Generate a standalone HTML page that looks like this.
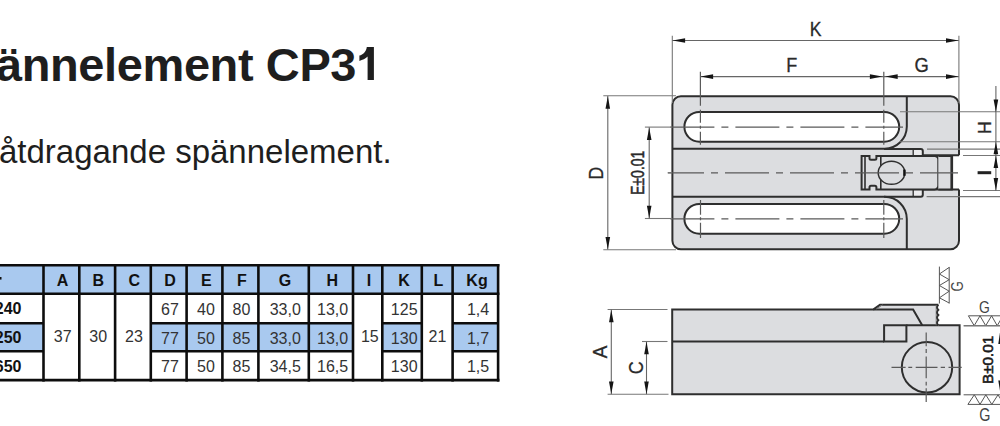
<!DOCTYPE html>
<html><head><meta charset="utf-8">
<style>
html,body{margin:0;padding:0;background:#fff;width:1000px;height:426px;overflow:hidden;position:relative}
body{font-family:"Liberation Sans",sans-serif;color:#1a1a1a}
.t{position:absolute;white-space:nowrap;line-height:1}
#title{left:-4px;top:41px;font-size:47px;letter-spacing:-0.4px;font-weight:bold;color:#1e1e1e}
#sub{left:-1px;top:135px;font-size:33px;color:#1e1e1e}
svg{position:absolute;left:0;top:0}
</style></head><body>
<div class="t" id="title">ännelement CP3</div>
<div class="t" id="sub">åtdragande spännelement.</div>
<svg width="1000" height="426" viewBox="0 0 1000 426">
<path d="M366.8,46.9 H373.9 V79.9 H367.6 V56.6 C365.5,58.6 362.4,60.2 359.4,60.9 V55.6 C363,54.5 366.2,51.6 366.8,46.9 Z" fill="#1e1e1e"/>
<g id="table">
<rect x="0" y="265" width="498" height="28" fill="#a9c9ef"/>
<rect x="0" y="323.2" width="43.5" height="28" fill="#a9c9ef"/>
<rect x="150.8" y="323.2" width="202.2" height="28" fill="#a9c9ef"/>
<rect x="382.3" y="323.2" width="39.5" height="28" fill="#a9c9ef"/>
<rect x="452.6" y="323.2" width="45.5" height="28" fill="#a9c9ef"/>
<line x1="43.5" y1="264.1" x2="43.5" y2="381.6" stroke="#0d0d0d" stroke-width="2.6"/>
<line x1="79.3" y1="264.1" x2="79.3" y2="381.6" stroke="#0d0d0d" stroke-width="2.6"/>
<line x1="115.1" y1="264.1" x2="115.1" y2="381.6" stroke="#0d0d0d" stroke-width="2.6"/>
<line x1="150.8" y1="264.1" x2="150.8" y2="381.6" stroke="#0d0d0d" stroke-width="2.6"/>
<line x1="186.6" y1="264.1" x2="186.6" y2="381.6" stroke="#0d0d0d" stroke-width="2.6"/>
<line x1="222.4" y1="264.1" x2="222.4" y2="381.6" stroke="#0d0d0d" stroke-width="2.6"/>
<line x1="258.4" y1="264.1" x2="258.4" y2="381.6" stroke="#0d0d0d" stroke-width="2.6"/>
<line x1="308.8" y1="264.1" x2="308.8" y2="381.6" stroke="#0d0d0d" stroke-width="2.6"/>
<line x1="353" y1="264.1" x2="353" y2="381.6" stroke="#0d0d0d" stroke-width="2.6"/>
<line x1="382.3" y1="264.1" x2="382.3" y2="381.6" stroke="#0d0d0d" stroke-width="2.6"/>
<line x1="421.8" y1="264.1" x2="421.8" y2="381.6" stroke="#0d0d0d" stroke-width="2.6"/>
<line x1="452.6" y1="264.1" x2="452.6" y2="381.6" stroke="#0d0d0d" stroke-width="2.6"/>
<line x1="498.1" y1="264.1" x2="498.1" y2="381.6" stroke="#0d0d0d" stroke-width="2.6"/>
<line x1="0" y1="265.25" x2="499.4" y2="265.25" stroke="#0d0d0d" stroke-width="2.4"/>
<line x1="0" y1="293.7" x2="499.4" y2="293.7" stroke="#0d0d0d" stroke-width="2.6"/>
<line x1="0" y1="380.2" x2="499.4" y2="380.2" stroke="#0d0d0d" stroke-width="2.7"/>
<line x1="0" y1="323.2" x2="43.5" y2="323.2" stroke="#0d0d0d" stroke-width="2.5"/>
<line x1="150.8" y1="323.2" x2="353" y2="323.2" stroke="#0d0d0d" stroke-width="2.5"/>
<line x1="382.3" y1="323.2" x2="421.8" y2="323.2" stroke="#0d0d0d" stroke-width="2.5"/>
<line x1="452.6" y1="323.2" x2="498.1" y2="323.2" stroke="#0d0d0d" stroke-width="2.5"/>
<line x1="0" y1="351.2" x2="43.5" y2="351.2" stroke="#0d0d0d" stroke-width="2.5"/>
<line x1="150.8" y1="351.2" x2="353" y2="351.2" stroke="#0d0d0d" stroke-width="2.5"/>
<line x1="382.3" y1="351.2" x2="421.8" y2="351.2" stroke="#0d0d0d" stroke-width="2.5"/>
<line x1="452.6" y1="351.2" x2="498.1" y2="351.2" stroke="#0d0d0d" stroke-width="2.5"/>
<g font-family="Liberation Sans" font-weight="bold" font-size="16" fill="#111" text-anchor="middle">
<text x="62.5" y="285.7">A</text>
<text x="98.4" y="285.7">B</text>
<text x="134.3" y="285.7">C</text>
<text x="170" y="285.7">D</text>
<text x="206.3" y="285.7">E</text>
<text x="241.8" y="285.7">F</text>
<text x="285" y="285.7">G</text>
<text x="332.4" y="285.7">H</text>
<text x="369" y="285.7">I</text>
<text x="404" y="285.7">K</text>
<text x="438.5" y="285.7">L</text>
<text x="477" y="285.7">Kg</text>
</g>
<g font-family="Liberation Sans" font-weight="bold" font-size="16" fill="#111" text-anchor="end">
<text x="21.5" y="313.8">240</text>
<text x="21.5" y="343.4">250</text>
<text x="21.5" y="372">650</text>
</g>
<rect x="0" y="277" width="1.5" height="2.6" fill="#111"/>
<g font-family="Liberation Sans" font-size="16" fill="#333" text-anchor="middle">
<text x="62.7" y="342.4">37</text>
<text x="98.2" y="342.4">30</text>
<text x="134" y="342.4">23</text>
<text x="369.8" y="342.4">15</text>
<text x="437.4" y="342.4">21</text>
<text x="170" y="315">67</text>
<text x="206" y="315">40</text>
<text x="241.5" y="315">80</text>
<text x="285.3" y="315">33,0</text>
<text x="332.6" y="315">13,0</text>
<text x="404.2" y="315">125</text>
<text x="478" y="315">1,4</text>
<text x="170" y="344">77</text>
<text x="206" y="344">50</text>
<text x="241.5" y="344">85</text>
<text x="285.3" y="344">33,0</text>
<text x="332.6" y="344">13,0</text>
<text x="404.2" y="344">130</text>
<text x="478" y="344">1,7</text>
<text x="170" y="372">77</text>
<text x="206" y="372">50</text>
<text x="241.5" y="372">85</text>
<text x="285.3" y="372">34,5</text>
<text x="332.6" y="372">16,5</text>
<text x="404.2" y="372">130</text>
<text x="478" y="372">1,5</text>
</g>
</g>
<g id="drawing">
<path d="M680.9,96.2 H950.5 A8.5,8.5 0 0 1 959.0,104.7 V240.7 A8.5,8.5 0 0 1 950.5,249.2 H680.9 A8.5,8.5 0 0 1 672.4,240.7 V104.7 A8.5,8.5 0 0 1 680.9,96.2 Z" fill="#dcdde0" stroke="none"/>
<rect x="951.8" y="155.3" width="8.5" height="34.3" fill="#fff"/>
<path d="M699.3,111.9 H884.3000000000001 A14.899999999999991,14.899999999999991 0 0 1 884.3000000000001,141.7 H699.3 A14.899999999999991,14.899999999999991 0 0 1 699.3,111.9 Z" fill="#fff" stroke="#2e2e2e" stroke-width="2"/>
<path d="M699.3,203.9 H884.3000000000001 A14.899999999999991,14.899999999999991 0 0 1 884.3000000000001,233.7 H699.3 A14.899999999999991,14.899999999999991 0 0 1 699.3,203.9 Z" fill="#fff" stroke="#2e2e2e" stroke-width="2"/>
<path d="M680.9,96.2 H950.5 A8.5,8.5 0 0 1 959.0,104.7 V155.3 M959.0,189.6 V240.7 A8.5,8.5 0 0 1 950.5,249.2 H680.9 A8.5,8.5 0 0 1 672.4,240.7 V104.7 A8.5,8.5 0 0 1 680.9,96.2" stroke="#2e2e2e" stroke-width="2" fill="none" />
<path d="M672.4,148.7 H884.6 A22.2,22.2 0 0 0 906.8000000000001,126.8 V96.2" stroke="#2e2e2e" stroke-width="2" fill="none" />
<path d="M672.4,196.8 H884.6 A22.2,22.2 0 0 1 906.8000000000001,218.8 V249.2" stroke="#2e2e2e" stroke-width="2" fill="none" />
<rect x="913.5" y="149.5" width="8.6" height="5.6" fill="#ececee"/>
<rect x="913.5" y="190.1" width="8.6" height="6.1" fill="#ececee"/>
<path d="M884,148.9 H920.8 Q922.8,148.9 922.8,150.9 V155.5" stroke="#2e2e2e" stroke-width="2" fill="none" />
<path d="M913.2,148.9 V155.5" stroke="#2e2e2e" stroke-width="1.3" fill="none" />
<path d="M884,196.8 H920.8 Q922.8,196.8 922.8,194.8 V189.6" stroke="#2e2e2e" stroke-width="2" fill="none" />
<path d="M913.2,189.6 V196.8" stroke="#2e2e2e" stroke-width="1.3" fill="none" />
<line x1="927" y1="149.1" x2="1000" y2="149.1" stroke="#777" stroke-width="1.2" />
<line x1="926.6" y1="196.7" x2="1000" y2="196.7" stroke="#777" stroke-width="1.2" />
<path d="M922.3,155.3 H959" stroke="#2e2e2e" stroke-width="2" fill="none" />
<path d="M922.3,189.6 H959" stroke="#2e2e2e" stroke-width="2" fill="none" />
<path d="M861.6,156 H869.5 V158.2 Q869.5,159.7 871,159.7 H874.9 Q876.4,159.7 876.4,158.2 V156 H934.5 Q938.3,156 938.3,159.8 V185.6 Q938.3,189.4 934.5,189.4 H876.4 V187.2 Q876.4,185.7 874.9,185.7 H871 Q869.5,185.7 869.5,187.2 V189.4 H861.6 Z" stroke="#2e2e2e" stroke-width="2" fill="#dcdde0" />
<path d="M865,156 V189.4" stroke="#2e2e2e" stroke-width="1.6" fill="none" />
<path d="M880.8,156 V189.4" stroke="#2e2e2e" stroke-width="1.6" fill="none" />
<path d="M938.3,156 H951.8 V189.4 H938.3" stroke="#2e2e2e" stroke-width="2" fill="#dcdde0" />
<path d="M951.8,155.5 V189.8" stroke="#2e2e2e" stroke-width="2.6" fill="none" />
<ellipse cx="891.5" cy="172.75" rx="13.3" ry="11.6" fill="#dcdde0" stroke="#2e2e2e" stroke-width="1.5"/>
<path d="M904.4,169.6 V175.8" stroke="#111" stroke-width="2.4" fill="none" />
<line x1="667.8" y1="172.9" x2="958" y2="172.9" stroke="#5a5a5a" stroke-width="1.2" stroke-dasharray="44 7 7 7" stroke-dashoffset="7.8"/>
<line x1="670.4" y1="127.1" x2="903" y2="127.1" stroke="#5a5a5a" stroke-width="1.2" stroke-dasharray="44 7 7 7" stroke-dashoffset="0"/>
<line x1="670.4" y1="218.8" x2="903" y2="218.8" stroke="#5a5a5a" stroke-width="1.2" stroke-dasharray="44 7 7 7" stroke-dashoffset="0"/>
<line x1="644.9" y1="127.1" x2="672" y2="127.1" stroke="#777" stroke-width="1.1" />
<line x1="644.9" y1="218.5" x2="672" y2="218.5" stroke="#777" stroke-width="1.1" />
<line x1="667.8" y1="172.7" x2="672" y2="172.7" stroke="#777" stroke-width="1.1" />
<line x1="700.4" y1="71.8" x2="700.4" y2="145" stroke="#5a5a5a" stroke-width="1.2" stroke-dasharray="34 4 13 3 3 3 13 4 50" stroke-dashoffset="0"/>
<line x1="700.5" y1="200" x2="700.5" y2="238" stroke="#5a5a5a" stroke-width="1.2" stroke-dasharray="14.8 2.5 3 2.5 16" stroke-dashoffset="0"/>
<line x1="883.8" y1="71.8" x2="883.8" y2="145" stroke="#5a5a5a" stroke-width="1.2" stroke-dasharray="34 4 13 3 3 3 13 4 50" stroke-dashoffset="0"/>
<line x1="883.8" y1="200" x2="883.8" y2="238" stroke="#5a5a5a" stroke-width="1.2" stroke-dasharray="14.8 2.5 3 2.5 16" stroke-dashoffset="0"/>
<line x1="672.3" y1="35.8" x2="672.3" y2="103" stroke="#777" stroke-width="1.1" />
<line x1="958.9" y1="35.8" x2="958.9" y2="103" stroke="#777" stroke-width="1.1" />
<line x1="672.3" y1="40.5" x2="958.8" y2="40.5" stroke="#666" stroke-width="1.1" />
<polygon points="672.6,40.5 685.1,38.2 685.1,42.8" fill="#151515"/>
<polygon points="958.5,40.5 946.0,38.2 946.0,42.8" fill="#151515"/>
<line x1="700.3" y1="76.6" x2="958.8" y2="76.6" stroke="#666" stroke-width="1.1" />
<polygon points="700.6,76.6 713.1,74.3 713.1,78.9" fill="#151515"/>
<polygon points="882.4,76.6 869.9,74.3 869.9,78.9" fill="#151515"/>
<polygon points="885.2,76.6 897.7,74.3 897.7,78.9" fill="#151515"/>
<polygon points="958.5,76.6 946.0,74.3 946.0,78.9" fill="#151515"/>
<text transform="translate(815.6,35.6) scale(0.88,1)" font-family="Liberation Sans" font-size="20" fill="#2a2a2a" text-anchor="middle" stroke="#2a2a2a" stroke-width="0.3">K</text>
<text transform="translate(791.7,71.6) scale(0.9,1)" font-family="Liberation Sans" font-size="20" fill="#2a2a2a" text-anchor="middle" stroke="#2a2a2a" stroke-width="0.3">F</text>
<text transform="translate(921.6,72.2) scale(0.92,1)" font-family="Liberation Sans" font-size="20" fill="#2a2a2a" text-anchor="middle" stroke="#2a2a2a" stroke-width="0.3">G</text>
<line x1="603.3" y1="95.8" x2="676" y2="95.8" stroke="#777" stroke-width="1.1" />
<line x1="603.3" y1="249.8" x2="676" y2="249.8" stroke="#777" stroke-width="1.1" />
<line x1="607.8" y1="96" x2="607.8" y2="249.5" stroke="#666" stroke-width="1.1" />
<polygon points="607.8,96.2 605.5,108.7 610.1,108.7" fill="#151515"/>
<polygon points="607.8,249.5 605.5,237.0 610.1,237.0" fill="#151515"/>
<line x1="649.2" y1="127.3" x2="649.2" y2="218.5" stroke="#666" stroke-width="1.1" />
<polygon points="649.2,127.5 646.9,140.0 651.5,140.0" fill="#151515"/>
<polygon points="649.2,218.3 646.9,205.8 651.5,205.8" fill="#151515"/>
<text transform="translate(603.3,173.2) rotate(-90) scale(0.9,1)" font-family="Liberation Sans" font-size="19.5" fill="#2a2a2a" text-anchor="middle" stroke="#2a2a2a" stroke-width="0.3">D</text>
<text transform="translate(644.4,172.8) rotate(-90) scale(0.74,1)" font-family="Liberation Sans" font-size="19" fill="#2a2a2a" text-anchor="middle" stroke="#2a2a2a" stroke-width="0.5">E±0.01</text>
<line x1="900" y1="111.8" x2="1000" y2="111.8" stroke="#777" stroke-width="1.1" />
<line x1="900" y1="141.8" x2="1000" y2="141.8" stroke="#777" stroke-width="1.1" />
<line x1="963" y1="155.5" x2="1000" y2="155.5" stroke="#777" stroke-width="1.1" />
<line x1="963" y1="190.5" x2="1000" y2="190.5" stroke="#777" stroke-width="1.1" />
<line x1="995.9" y1="86" x2="995.9" y2="191" stroke="#666" stroke-width="1.1" />
<polygon points="995.9,111.9 993.6,99.4 998.2,99.4" fill="#151515"/>
<polygon points="995.9,141.8 993.6,154.3 998.2,154.3" fill="#151515"/>
<polygon points="995.9,155.6 993.6,168.1 998.2,168.1" fill="#151515"/>
<polygon points="995.9,190.4 993.6,177.9 998.2,177.9" fill="#151515"/>
<text transform="translate(990.6,127.6) rotate(-90) scale(0.95,1)" font-family="Liberation Sans" font-size="18.5" fill="#2a2a2a" text-anchor="middle" stroke="#2a2a2a" stroke-width="0.3">H</text>
<rect x="977.6" y="171.2" width="13.6" height="3" fill="#222"/>
<path d="M672.2,309.4 H873.5 L880,304.8 H938.4 V325.3 H959.6 V394.3 H672.2 Z" fill="#dcdde0" stroke="none"/>
<path d="M938.4,304.8 H880 L873.5,309.4 H672.2 V394.3 H959.6 V325.3 H938.4" stroke="#2e2e2e" stroke-width="2" fill="none" />
<path d="M672.2,341.5 H884.1" stroke="#2e2e2e" stroke-width="2" fill="none" />
<path d="M884.1,341.5 V325.3 H906.4 V341.5 Z" stroke="#2e2e2e" stroke-width="2" fill="none" />
<path d="M906.4,325.3 H938.4" stroke="#2e2e2e" stroke-width="2" fill="none" />
<path d="M873.5,309.4 H913.1 L922.2,325.3" stroke="#2e2e2e" stroke-width="2" fill="none" />
<path d="M876.4,309 L882.6,304.8" stroke="#777" stroke-width="1" fill="none" />
<path d="M936.2,305 V325.3" stroke="#777" stroke-width="0.9" fill="none" />
<path d="M938.4,304.8 Q935.6,307.35 938.4,309.9 Q935.6,312.45 938.4,315 Q935.6,317.55 938.4,320.1 Q935.6,322.7 938.4,325.3" stroke="#2e2e2e" stroke-width="1.8" fill="none" />
<circle cx="927" cy="367.2" r="25.2" fill="#dcdde0" stroke="#2e2e2e" stroke-width="2"/>
<line x1="891.5" y1="367.4" x2="961.7" y2="367.4" stroke="#5a5a5a" stroke-width="1.2" stroke-dasharray="14.1 2.7 3.9 3.5 21.8 3.2 4.3 3.5 13.2 100" stroke-dashoffset="0"/>
<line x1="926.2" y1="332.5" x2="926.2" y2="402" stroke="#5a5a5a" stroke-width="1.2" stroke-dasharray="13.8 2.7 3.9 3.5 21.8 3.5 3.9 2.7 14 100" stroke-dashoffset="0"/>
<line x1="607.6" y1="309.5" x2="667.5" y2="309.5" stroke="#777" stroke-width="1.1" />
<line x1="607.6" y1="394.3" x2="668.5" y2="394.3" stroke="#777" stroke-width="1.1" />
<line x1="642" y1="341.5" x2="667.5" y2="341.5" stroke="#777" stroke-width="1.1" />
<line x1="611.3" y1="309.6" x2="611.3" y2="394.2" stroke="#666" stroke-width="1.1" />
<polygon points="611.3,309.7 609.0,322.2 613.6,322.2" fill="#151515"/>
<polygon points="611.3,394.1 609.0,381.6 613.6,381.6" fill="#151515"/>
<line x1="646.5" y1="341.6" x2="646.5" y2="394.2" stroke="#666" stroke-width="1.1" />
<polygon points="646.5,341.7 644.2,354.2 648.8,354.2" fill="#151515"/>
<polygon points="646.5,394.1 644.2,381.6 648.8,381.6" fill="#151515"/>
<text transform="translate(607.4,351.9) rotate(-90) scale(0.95,1)" font-family="Liberation Sans" font-size="20" fill="#2a2a2a" text-anchor="middle" stroke="#2a2a2a" stroke-width="0.3">A</text>
<text transform="translate(642.7,367.8) rotate(-90) scale(0.9,1)" font-family="Liberation Sans" font-size="20" fill="#2a2a2a" text-anchor="middle" stroke="#2a2a2a" stroke-width="0.3">C</text>
<path d="M939.4,266.6 V303.5 M949.2,267 V303.5 M949.2,267.4 L939.4,274 L949.2,279.7 L939.4,285.5 L949.2,291.2 L939.4,297.8 L949.2,303" stroke="#555" stroke-width="1.0" fill="none" />
<text transform="translate(963.3,286.3) rotate(-90) scale(0.8,1)" font-family="Liberation Sans" font-size="16.5" fill="#4a4a4a" text-anchor="middle" >G</text>
<path d="M963.5,325.8 H1000 M968.4,315.8 H1000 M968.4,315.8 L974.2,325.7 L980,315.8 L985.7,325.7 L991.6,315.8 L997.2,325.7 L1003,315.8" stroke="#555" stroke-width="1.0" fill="none" />
<text transform="translate(984.4,312.5) scale(0.82,1)" font-family="Liberation Sans" font-size="17" fill="#444" text-anchor="middle" >G</text>
<path d="M963.6,394.8 H1000 M967.9,404.4 H1000 M967.9,404.4 L974.3,394.8 L980,404.4 L985.8,394.8 L991.8,404.4 L998,394.8 L1004,404.4" stroke="#555" stroke-width="1.0" fill="none" />
<text transform="translate(984.8,420.9) scale(0.82,1)" font-family="Liberation Sans" font-size="17.5" fill="#444" text-anchor="middle" >G</text>
<line x1="964" y1="325.6" x2="1000" y2="325.6" stroke="#777" stroke-width="1.1" />
<text transform="translate(993.1,359.9) rotate(-90)" font-family="Liberation Sans" font-size="15.2" fill="#1a1a1a" text-anchor="middle" stroke="#1a1a1a" stroke-width="0.55">B±0.01</text>
<polygon points="1000.6,328.0 998.3,344.0 1002.9,344.0" fill="#151515"/>
<polygon points="1000.6,394.5 998.3,380.5 1002.9,380.5" fill="#151515"/>
</g>
</svg>
</body></html>
